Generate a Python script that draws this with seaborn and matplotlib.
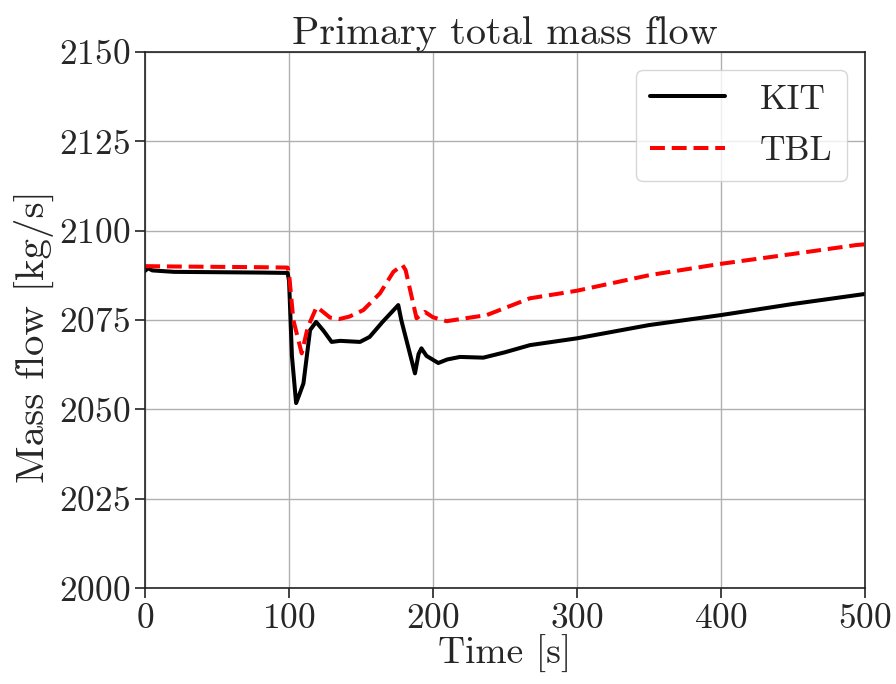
import numpy as np
import pandas as pd
import matplotlib
matplotlib.use('Agg')
import matplotlib.pyplot as plt
import seaborn as sns

# (time in s, mass flow in kg/s)
kit_time = [0, 2, 5, 20, 50, 80, 99, 100, 102, 104.9, 107, 110, 114.6, 118.8, 124, 129.6,
            135.4, 149.3, 156, 165, 175.9, 178, 187.5, 190, 192, 195.5, 203.7, 210,
            218.8, 235, 250, 267.4, 300, 350, 400, 450, 500]
kit_flow = [2088.8, 2089.5, 2088.9, 2088.5, 2088.4, 2088.3, 2088.2, 2086, 2065, 2051.8, 2054,
            2057.3, 2072.2, 2074.5, 2072, 2068.9, 2069.2, 2068.9, 2070.3, 2074.5, 2079.2,
            2075, 2060.1, 2065.5, 2067.1, 2065.0, 2063.0, 2064.0, 2064.7, 2064.5, 2066.0,
            2068.0, 2069.9, 2073.6, 2076.4, 2079.5, 2082.3]

tbl_time = [0, 20, 50, 80, 99, 100, 103, 108.8, 113, 119.2, 123, 128.5, 135, 142, 151.6,
            163.2, 172.5, 178.8, 181, 188.6, 194.4, 200, 209.5, 225.7, 237.3, 267.4, 299.8,
            350.7, 399.3, 450, 494.2, 500]
tbl_flow = [2090.1, 2090.0, 2089.9, 2089.8, 2089.7, 2088, 2075, 2065.7, 2073, 2078.7,
            2077.5, 2075.7, 2075.3, 2076.0, 2077.8, 2082.5, 2088.5, 2090.4, 2089, 2075.5,
            2077.3, 2075.8, 2074.7, 2075.7, 2076.4, 2081.1, 2083.2, 2087.6, 2090.7,
            2093.5, 2096.0, 2096.2]

df = pd.concat([
    pd.DataFrame({'Time': kit_time, 'Flow': kit_flow, 'Code': 'KIT'}),
    pd.DataFrame({'Time': tbl_time, 'Flow': tbl_flow, 'Code': 'TBL'}),
], ignore_index=True)

sns.set_style('ticks')
plt.rcParams['font.family'] = 'serif'
plt.rcParams['font.serif'] = ['cmr10', 'DejaVu Serif']
plt.rcParams['mathtext.fontset'] = 'cm'
plt.rcParams['axes.formatter.use_mathtext'] = True

fig = plt.figure(figsize=(8.96, 6.84), dpi=100)
ax = fig.add_axes([0.162, 0.14, 0.803, 0.784])

sns.lineplot(data=df, x='Time', y='Flow', hue='Code', style='Code',
             palette={'KIT': 'black', 'TBL': 'red'},
             dashes={'KIT': '', 'TBL': (3.7, 1.7)},
             linewidth=2.9, ax=ax)

ax.set_xlim(0, 500)
ax.set_ylim(2000, 2150)
ax.set_xticks([0, 100, 200, 300, 400, 500])
ax.set_yticks([2000, 2025, 2050, 2075, 2100, 2125, 2150])
ax.grid(True, color='#b0b0b0', linewidth=1.0)
ax.set_axisbelow(True)
for s in ax.spines.values():
    s.set_color('#222222')
    s.set_linewidth(1.2)
ax.tick_params(labelsize=25.5, length=7, width=1.2, color='#222222', pad=4)

ax.set_title('Primary total mass flow', fontsize=29, pad=6)
ax.set_xlabel('Time [s]', fontsize=27, labelpad=0)
ax.set_ylabel('Mass flow [kg/s]', fontsize=29.5)
ax.yaxis.set_label_coords(-0.126, 0.47)

leg = ax.legend(loc='upper right', fontsize=25.5, frameon=True, fancybox=True,
                handlelength=2.1, borderpad=0.4, labelspacing=0.55, handletextpad=1.0)
leg.get_frame().set_edgecolor('#cccccc')
leg.get_frame().set_alpha(0.8)

fig.savefig('out.png', dpi=100)
